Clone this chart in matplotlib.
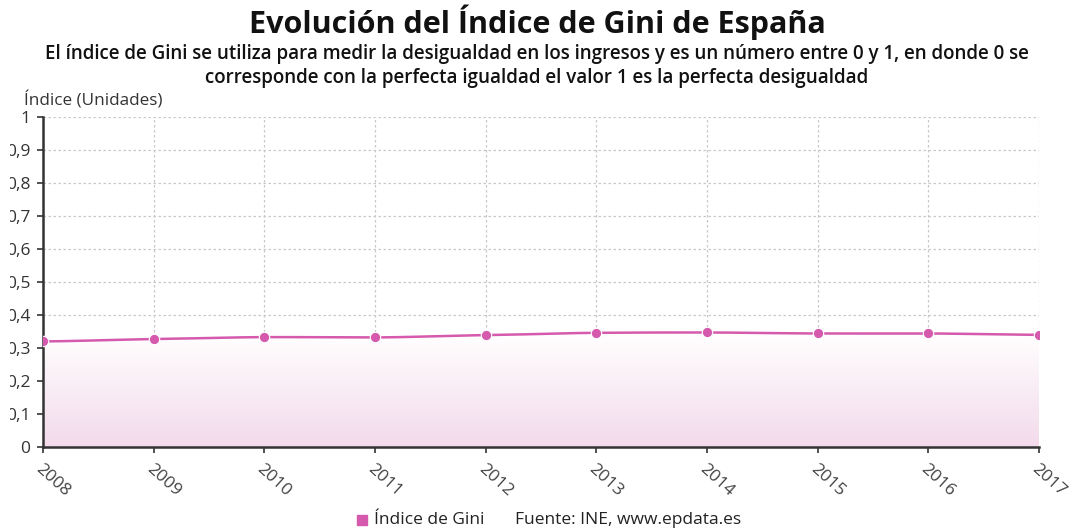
import numpy as np
import matplotlib
matplotlib.use("Agg")
import matplotlib.pyplot as plt
from matplotlib.patches import Polygon
from matplotlib.lines import Line2D
from matplotlib.transforms import Bbox, TransformedBbox

plt.rcParams['font.family'] = ['Open Sans', 'DejaVu Sans']

years = [2008, 2009, 2010, 2011, 2012, 2013, 2014, 2015, 2016, 2017]
gini = [0.320, 0.327, 0.333, 0.332, 0.339, 0.346, 0.347, 0.344, 0.344, 0.340]
yticks = [0, 0.1, 0.2, 0.3, 0.4, 0.5, 0.6, 0.7, 0.8, 0.9, 1]
ytick_labels = ["0", "0,1", "0,2", "0,3", "0,4", "0,5", "0,6", "0,7", "0,8", "0,9", "1"]

title = "Evolución del Índice de Gini de España"
subtitle = ("El índice de Gini se utiliza para medir la desigualdad en los ingresos y es un número entre 0 y 1, en donde 0 se\n"
            "corresponde con la perfecta igualdad el valor 1 es la perfecta desigualdad")
ylabel = "Índice (Unidades)"
series_name = "Índice de Gini"
source = "Fuente: INE, www.epdata.es"

color = "#d55aad"

fig = plt.figure(figsize=(10.74, 5.31), dpi=100)
ax = fig.add_axes([43/1074, 1-447/531, (1039-43)/1074, (447-117)/531])

# smooth curve (cubic Hermite through the points)
x = np.array(years, dtype=float)
y = np.array(gini)
xs, ys = [], []
for i in range(len(x)-1):
    p0 = y[i-1] if i > 0 else y[i]
    p1, p2 = y[i], y[i+1]
    p3 = y[i+2] if i+2 < len(y) else y[i+1]
    t = np.linspace(0, 1, 30)
    m1 = (p2 - p0) / 2 * 0.6
    m2 = (p3 - p1) / 2 * 0.6
    h00 = 2*t**3 - 3*t**2 + 1
    h10 = t**3 - 2*t**2 + t
    h01 = -2*t**3 + 3*t**2
    h11 = t**3 - t**2
    xs.extend(x[i] + t)
    ys.extend(h00*p1 + h10*m1 + h01*p2 + h11*m2)
xs = np.array(xs); ys = np.array(ys)

# gradient fill
grad = np.linspace(0, 1, 256).reshape(-1, 1)
c_top = np.array([1.0, 1.0, 1.0])
c_bot = np.array([0xf3/255, 0xda/255, 0xeb/255])
img = c_bot + (c_top - c_bot) * grad
img = img.reshape(256, 1, 3)
im = ax.imshow(img, extent=[x[0], x[-1], 0, max(ys)], origin='lower', aspect='auto', zorder=1)
poly = Polygon(np.column_stack([np.r_[xs, xs[-1], xs[0]], np.r_[ys, 0, 0]]), closed=True,
               facecolor='none', edgecolor='none', transform=ax.transData)
ax.add_patch(poly)
im.set_clip_path(poly)

ax.plot(xs, ys, color=color, lw=1.8, zorder=3)
ax.plot(x, y, 'o', color=color, ms=7.5, zorder=4, markeredgecolor='white', markeredgewidth=0.8)

ax.set_xlim(2008, 2017)
ax.set_ylim(0, 1)
ax.set_yticks(yticks)
ax.set_yticklabels(ytick_labels, fontsize=12.5, color='#333333')
ax.set_xticks(years)
ax.set_xticklabels([str(v) for v in years], fontsize=12.5, color='#444444',
                   rotation=-42, ha='left', va='top', rotation_mode='anchor')
ax.grid(True, color='#c8c8c8', linestyle=(0, (2, 2)), lw=0.9)
ax.set_axisbelow(True)
for s in ['top', 'right']:
    ax.spines[s].set_visible(False)
ax.spines['left'].set_color('#333333')
ax.spines['left'].set_linewidth(1.8)
ax.spines['bottom'].set_color('#333333')
ax.spines['bottom'].set_linewidth(1.8)
ax.tick_params(axis='both', length=4, width=1.2, color='#333333', pad=5)
ax.tick_params(axis='x', pad=6)

# clip y tick labels at left like the reference
clipbox = TransformedBbox(Bbox([[10/1074, 0], [1, 1]]), fig.transFigure)
for lab in ax.get_yticklabels():
    lab.set_clip_on(True)
    lab.set_clip_box(clipbox)

fig.text(0.5, 1-22/531, title, ha='center', va='center', fontsize=22, fontweight='bold', color='#111111')
fig.text(0.5, 1-66/531, subtitle, ha='center', va='center', fontsize=13.5, fontweight='semibold',
         color='#111111', linespacing=1.25)
fig.text(24/1074, 1-100/531, ylabel, ha='left', va='center', fontsize=12.3, color='#333333')

fig.lines.append(Line2D([362/1074], [1-520/531], marker='s', ms=7.5, color=color, transform=fig.transFigure, lw=0))
fig.text(374/1074, 1-520/531, series_name, ha='left', va='center', fontsize=12.5, color='#222222')
fig.text(515/1074, 1-520/531, source, ha='left', va='center', fontsize=12.5, color='#222222')

fig.savefig("out.png", dpi=100)
